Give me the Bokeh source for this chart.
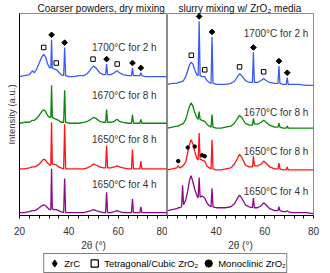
import numpy as np
from bokeh.plotting import figure
from bokeh.layouts import column, row
from bokeh.models import ColumnDataSource, Range1d, FixedTicker, Legend, LegendItem
from bokeh.core.properties import value
from bokeh.embed import file_html
from bokeh.resources import INLINE

FONT = "Liberation Sans"

PANEL_TITLES = ["Coarser powders, dry mixing", "slurry mixing w/ ZrO\u2082 media"]
CONDITIONS = ["1700°C for 2 h", "1670°C for 8 h", "1650°C for 8 h", "1650°C for 4 h"]
COLORS = ["#3a5cf5", "#0a870a", "#ff1414", "#8b0a8b"]

# ---- dry mixing panel (2theta grid + relative intensities) ----
TWO_THETA_DRY = [20, 22, 24, 25.2, 26, 27, 28, 29, 29.8, 30.6,
                 31.4, 32.2, 32.7, 33.0, 33.3, 34, 35, 35.8, 36.8, 37.9,
                 38.3, 38.7, 40, 42, 44, 46, 47.5, 49, 50, 51,
                 52.5, 54, 54.9, 55.3, 55.7, 57, 58.5, 59.5, 60.5, 62,
                 64, 65.4, 65.8, 66.2, 67.5, 68.8, 69.2, 69.6, 71, 74,
                 77, 80]
DRY_1700C_2H = [0, 1, 2, 6, 4, 8, 14, 20, 23, 20,
                13, 9, 9, 38, 9, 8, 7, 5, 2, 1,
                30, 1, 0, 0, 1, 1, 3, 8, 11, 9,
                4, 2, 2, 13, 2, 2, 4, 6, 4, 2,
                1, 1, 9, 1, 1, 1, 4, 1, 0, 0,
                0, 0]
DRY_1670C_8H = [0, 1, 1, 3, 3, 5, 8, 12, 14, 12,
                8, 6, 6, 39, 6, 5, 4, 3, 1, 1,
                34, 1, 0, 0, 0, 1, 2, 4, 6, 5,
                2, 1, 1, 14, 1, 1, 2, 4, 2, 1,
                0, 0, 9, 0, 0, 0, 4, 0, 0, 0,
                0, 0]
DRY_1650C_8H = [0, 0, 1, 2, 2, 3, 5, 8, 10, 9,
                6, 4, 4, 48, 5, 5, 4, 2, 1, 0,
                46, 0, 0, 0, 0, 0, 1, 3, 5, 4,
                2, 1, 1, 24, 1, 1, 2, 3, 2, 1,
                0, 0, 20, 0, 0, 0, 8, 0, 0, 0,
                0, 0]
DRY_1650C_4H = [0, 0, 1, 2, 2, 3, 5, 7, 8, 7,
                5, 3, 3, 45, 4, 3, 3, 2, 1, 0,
                35, 0, 0, 0, 0, 0, 1, 2, 3, 2,
                1, 0, 0, 21, 0, 0, 1, 2, 1, 0,
                0, 0, 14, 0, 0, 0, 6, 0, 0, 0,
                0, 0]
OFFSETS_DRY = [143, 95, 48, 3]

# ---- slurry mixing panel ----
TWO_THETA_SLURRY = [20, 22, 23.8, 24.4, 25, 25.8, 26.2, 26.6, 27.5, 28.3,
                    29, 29.7, 30.4, 31.2, 32, 32.6, 33.0, 33.4, 34.2, 35.3,
                    36.2, 37.2, 37.9, 38.3, 38.7, 40, 42, 44, 46, 47.5,
                    48.8, 49.6, 50.5, 52, 53.5, 54.9, 55.3, 55.7, 57, 58.5,
                    59.5, 60.5, 62, 64, 65.4, 65.8, 66.2, 67.5, 68.8, 69.2,
                    69.6, 71, 74, 77, 80]
SLURRY_1700C_2H = [0, 1, 1, 2, 2, 3, 3, 4, 8, 14,
                   20, 23, 21, 15, 10, 9, 65, 9, 8, 8,
                   4, 2, 1, 49, 1, 0, 0, 0, 1, 3,
                   8, 11, 9, 4, 2, 2, 33, 2, 2, 4,
                   6, 4, 2, 1, 1, 19, 1, 0, 0, 7,
                   0, 0, 0, -1, -1]
SLURRY_1670C_8H = [0, 1, 2, 2, 3, 4, 4, 5, 9, 16,
                   22, 26, 23, 16, 11, 9, 17, 9, 8, 7,
                   4, 2, 1, 14, 1, 0, 0, 1, 2, 5,
                   10, 13, 11, 5, 3, 3, 10, 4, 4, 6,
                   8, 6, 3, 1, 1, 5, 1, 0, 0, 2,
                   0, 0, 0, 0, 0]
SLURRY_1650C_8H = [0, 1, 2, 4, 2, 3, 4, 5, 8, 18,
                   26, 31, 27, 19, 12, 10, 38, 11, 10, 9,
                   4, 2, 1, 31, 1, 0, 0, 1, 2, 6,
                   12, 16, 13, 5, 3, 3, 14, 4, 4, 6,
                   9, 7, 3, 1, 1, 7, 1, 0, 0, 3,
                   0, 0, 0, 0, 0]
SLURRY_1650C_4H = [3, 4, 5, 6, 6, 7, 29, 9, 14, 23,
                   34, 39, 33, 25, 19, 16, 37, 17, 18, 16,
                   11, 8, 7, 26, 7, 6, 6, 6, 7, 10,
                   16, 19, 16, 9, 7, 6, 16, 6, 6, 8,
                   11, 9, 5, 3, 3, 7, 3, 2, 2, 3,
                   2, 1, 1, 1, 0]
OFFSETS_SLURRY = [135, 90, 47, 2]

# ---- phase markers (2theta positions) ----
ZRC_PEAKS = [33.0, 38.3, 55.3, 65.8, 69.2]
T_ZRO2_DRY = [29.8, 34.9, 49.8, 59.6]
T_ZRO2_SLURRY = [29.8, 35.3, 49.6, 59.5]
M_ZRO2_SLURRY_1650C_8H = [24.4, 28.3, 31.2, 34.2, 35.3]

LEGEND_LABELS = ["ZrC", "Tetragonal/Cubic ZrO\u2082", "Monoclinic ZrO\u2082"]
X_TICKS = [20, 40, 60, 80]
X_MINOR = [24, 28, 32, 36, 44, 48, 52, 56, 64, 68, 72, 76]

# label placement (layout)
LABEL_X = [75.6, 77.9]
LABEL_Y_DRY = [173, 124, 78, 32]
LABEL_Y_SLURRY = [187, 106, 66, 25]

DIAMOND_ANGLE = np.pi / 4


def marker_y(xs, ys, offset, peaks, gap):
    xs = np.asarray(xs, dtype=float)
    ys = np.asarray(ys, dtype=float)
    return [offset + ys[np.abs(xs - p) <= 0.61].max() + gap for p in peaks]


def make_panel(title, width, left_axis, mb_left, mb_right, title_offset):
    p = figure(width=width, height=253, output_backend="svg", toolbar_location=None,
               x_range=Range1d(20, 80), y_range=Range1d(0, 208),
               y_axis_location="left" if left_axis else None,
               min_border=0, min_border_left=mb_left, min_border_right=mb_right,
               min_border_top=13)
    p.title.text = title
    p.title.align = "left"
    p.title.offset = title_offset
    p.title.text_font = FONT
    p.title.text_font_size = "10px"
    p.title.text_font_style = "normal"
    p.title.text_color = "#111111"
    p.title.standoff = 0
    p.xgrid.visible = False
    p.ygrid.visible = False
    p.outline_line_color = "#8c8c8c"
    p.background_fill_color = "white"
    p.border_fill_color = "white"
    ax = p.xaxis[0]
    ax.ticker = FixedTicker(ticks=X_TICKS, minor_ticks=X_MINOR)
    ax.axis_line_color = "black"
    ax.major_tick_out = 3
    ax.major_tick_in = 0
    ax.minor_tick_out = 3
    ax.minor_tick_in = 0
    ax.major_tick_line_color = "black"
    ax.minor_tick_line_color = "black"
    ax.major_label_text_font = FONT
    ax.major_label_text_font_size = "10px"
    ax.major_label_text_color = "#333333"
    ax.major_label_standoff = 8
    ax.axis_label = "2θ (°)"
    ax.axis_label_text_font = FONT
    ax.axis_label_text_font_size = "10px"
    ax.axis_label_text_font_style = "normal"
    ax.axis_label_text_color = "#333333"
    ax.axis_label_standoff = 2
    if left_axis:
        ay = p.yaxis[0]
        ay.ticker = FixedTicker(ticks=[])
        ay.axis_line_color = "black"
        ay.major_tick_line_color = None
        ay.minor_tick_line_color = None
        ay.axis_label = "Intensity (a.u.)"
        ay.axis_label_text_font = FONT
        ay.axis_label_text_font_size = "9.5px"
        ay.axis_label_text_font_style = "normal"
        ay.axis_label_text_color = "#333333"
        ay.axis_label_standoff = 3
    return p


def draw_traces(p, xs, traces, offsets, label_x, label_ys):
    for ys, off, col, lab, ly in zip(traces, offsets, COLORS, CONDITIONS, label_ys):
        src = ColumnDataSource(dict(x=xs, y=[v + off for v in ys]))
        p.line("x", "y", source=src, line_color=col, line_width=1.3)
        p.text(x=[label_x], y=[ly], text=[lab], text_font=value(FONT),
               text_font_size="10px", text_color="#333333",
               text_align="right", text_baseline="middle")


def draw_markers(p, xs, ys, off, diamonds, squares, circles):
    if diamonds:
        p.scatter(diamonds, marker_y(xs, ys, off, diamonds, 5), marker="square",
                  angle=DIAMOND_ANGLE, size=4, fill_color="black", line_color="black")
    if squares:
        p.scatter(squares, marker_y(xs, ys, off, squares, 7), marker="square",
                  size=4.5, fill_color="white", line_color="black", line_width=1)
    if circles:
        p.scatter(circles, marker_y(xs, ys, off, circles, 5), marker="circle",
                  size=3.5, fill_color="black", line_color="black")


p1 = make_panel(PANEL_TITLES[0], 167, True, 19, 0, 18)
draw_traces(p1, TWO_THETA_DRY, [DRY_1700C_2H, DRY_1670C_8H, DRY_1650C_8H, DRY_1650C_4H],
            OFFSETS_DRY, LABEL_X[0], LABEL_Y_DRY)
draw_markers(p1, TWO_THETA_DRY, DRY_1700C_2H, OFFSETS_DRY[0], ZRC_PEAKS, T_ZRO2_DRY, None)

p2 = make_panel(PANEL_TITLES[1], 163, False, 0, 17, 11)
p2.xaxis[0].major_label_overrides = {20: ""}
draw_traces(p2, TWO_THETA_SLURRY,
            [SLURRY_1700C_2H, SLURRY_1670C_8H, SLURRY_1650C_8H, SLURRY_1650C_4H],
            OFFSETS_SLURRY, LABEL_X[1], LABEL_Y_SLURRY)
draw_markers(p2, TWO_THETA_SLURRY, SLURRY_1700C_2H, OFFSETS_SLURRY[0], ZRC_PEAKS, T_ZRO2_SLURRY, None)
draw_markers(p2, TWO_THETA_SLURRY, SLURRY_1650C_8H, OFFSETS_SLURRY[2], None, None, M_ZRO2_SLURRY_1650C_8H)

# legend strip (key icons only; their single source point lies outside the view)
p3 = figure(width=330, height=20, output_backend="svg", toolbar_location=None,
            x_range=Range1d(0, 1), y_range=Range1d(0, 1),
            x_axis_location=None, y_axis_location=None, min_border=0)
p3.xgrid.visible = False
p3.ygrid.visible = False
p3.outline_line_color = None
key_src = ColumnDataSource(dict(x=[-5], y=[-5]))
r1 = p3.scatter("x", "y", source=key_src, marker="diamond", size=9,
                fill_color="black", line_color="black")
r2 = p3.scatter("x", "y", source=key_src, marker="square", size=8,
                fill_color="white", line_color="black", line_width=1.2)
r3 = p3.scatter("x", "y", source=key_src, marker="circle", size=6,
                fill_color="black", line_color="black")
legend = Legend(items=[LegendItem(label=LEGEND_LABELS[0], renderers=[r1]),
                       LegendItem(label=LEGEND_LABELS[1], renderers=[r2]),
                       LegendItem(label=LEGEND_LABELS[2], renderers=[r3])],
                orientation="horizontal", location="center",
                glyph_width=20, glyph_height=18, label_height=18, label_standoff=0,
                spacing=0, padding=0, margin=0,
                border_line_color="black", border_line_width=1,
                label_text_font=FONT, label_text_font_size="9.5px",
                label_text_color="black", background_fill_alpha=1)
p3.add_layout(legend, "center")

layout = column(row(p1, p2, spacing=0), p3, spacing=0)
open("out.html", "w").write(file_html(layout, INLINE))
